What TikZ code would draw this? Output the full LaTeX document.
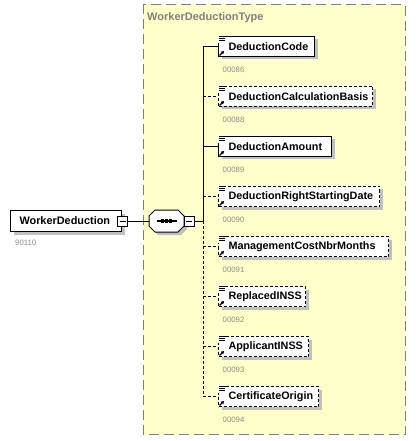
\documentclass[tikz,border=0pt]{standalone}
\usepackage{fontspec}
\setmainfont{Liberation Sans}
\usetikzlibrary{shadows,arrows.meta}
\definecolor{ybg}{RGB}{255,255,204}
\definecolor{yborder}{RGB}{128,128,128}
\definecolor{numgray}{RGB}{140,140,140}
\definecolor{shadowgray}{RGB}{192,192,192}
\tikzset{
  shd/.style={drop shadow={shadow xshift=3bp,shadow yshift=-3bp,fill=shadowgray,opacity=1}},
  elem/.style={draw,fill=white,line width=1bp,shd,minimum height=20bp,inner xsep=0pt,inner ysep=0pt,
    anchor=west,align=left,font=\bfseries\fontsize{10.8bp}{13bp}\selectfont},
  optelem/.style={elem,dash pattern=on 3bp off 2bp},
  numlbl/.style={anchor=west,inner sep=0pt,text=numgray,font=\fontsize{7.8bp}{9bp}\selectfont},
  minusbox/.style={draw,fill=white,line width=0.9bp,minimum width=10bp,minimum height=10bp,inner sep=0pt,
    path picture={\draw[line width=0.9bp] ([xshift=2bp]path picture bounding box.west) -- ([xshift=-2bp]path picture bounding box.east);}},
  conn/.style={line width=1bp},
  optconn/.style={line width=1bp,dash pattern=on 3bp off 2bp},
}
\newcommand\elicon[1]{%
  \fill[white] ([shift={(-0.6,-0.6)}]#1.north west) rectangle ([shift={(8,7)}]#1.north west);
  \foreach \yy/\ww in {0.6/7,2.6/6,4.6/6}
    \draw[line width=0.9bp] ([shift={(1,\yy)}]#1.north west) -- ++(\ww,0);
  \draw[line width=1.2bp,-{Triangle[length=3bp,width=3.5bp]}] ([shift={(1.5,-1.5)}]#1.south west) -- ++(4.5,-4.5);
}
\begin{document}
\begin{tikzpicture}[x=1bp,y=-1bp]
\useasboundingbox (0,0) rectangle (416,441);
% complex type box
\draw[fill=ybg,draw=yborder,line width=1bp,dash pattern=on 10bp off 5bp] (143.5,4.5) rectangle (405,434.5);
\node[anchor=west,inner sep=0pt,text=yborder,font=\bfseries\fontsize{11bp}{13bp}\selectfont] (title) at (147,17.5) {WorkerDeductionType};
% root element
\node[draw,fill=white,line width=1bp,shd,minimum height=21bp,inner xsep=0pt,inner ysep=0pt,anchor=west,align=left,
  text width=111bp,font=\bfseries\fontsize{10.9bp}{13bp}\selectfont] (root) at (10,221) {\hspace*{9bp}WorkerDeduction};
\node[minusbox] (rootm) at (122.5,221) {};
\node[numlbl] (rootn) at (15,242.5) {90110};
% sequence compositor
\node[minimum width=35bp,minimum height=22bp,inner sep=0pt] (comp) at (166.5,221) {};
\draw[fill=white,line width=1bp,shd]
  (155,210) -- (178,210) -- (184,216) -- (184,226) -- (178,232) -- (155,232) -- (149,226) -- (149,216) -- cycle;
\draw[line width=1.2bp] (156.5,221) -- (176.5,221);
\foreach \xx in {162.5,166.5,170.5} \fill (\xx-1.6,219.4) rectangle (\xx+1.6,222.6);
\node[minusbox] (compm) at (189,221) {};
\draw[conn] (rootm.east) -- (comp.west);
% vertical bar
\coordinate (vt) at (203,46.5);
\coordinate (vm) at (203,221);
\coordinate (vb) at (203,396.5);
\draw[conn] (compm.east) -- (vm);
\draw[conn] (vt) -- (vm);
\draw[optconn] (vm) -- (vb);
% child elements
\node[elem,text width=96bp] (e1) at (218,46.5) {\hspace*{10bp}DeductionCode};
\node[optelem,text width=154bp] (e2) at (218,96.5) {\hspace*{10bp}DeductionCalculationBasis};
\node[elem,text width=113bp] (e3) at (218,146.5) {\hspace*{10bp}DeductionAmount};
\node[optelem,text width=161bp] (e4) at (218,196.5) {\hspace*{10bp}DeductionRightStartingDate};
\node[optelem,text width=170bp] (e5) at (218,246.5) {\hspace*{10bp}ManagementCostNbrMonths};
\node[optelem,text width=87bp] (e6) at (218,296.5) {\hspace*{10bp}ReplacedINSS};
\node[optelem,text width=90bp] (e7) at (218,346.5) {\hspace*{10bp}ApplicantINSS};
\node[optelem,text width=100bp] (e8) at (218,396.5) {\hspace*{10bp}CertificateOrigin};
\foreach \n in {e1,e2,e3,e4,e5,e6,e7,e8} \elicon{\n};
% branches
\draw[conn] (e1.west -| vt) -- (e1.west);
\draw[conn] (e3.west -| vt) -- (e3.west);
\foreach \n in {e2,e4,e5,e6,e7,e8} \draw[optconn] (\n.west -| vt) -- (\n.west);
% numbers
\node[numlbl] (n1) at (222.5,69.5) {00086};
\node[numlbl] (n2) at (222.5,119.5) {00088};
\node[numlbl] (n3) at (222.5,169.5) {00089};
\node[numlbl] (n4) at (222.5,219.5) {00090};
\node[numlbl] (n5) at (222.5,269.5) {00091};
\node[numlbl] (n6) at (222.5,319.5) {00092};
\node[numlbl] (n7) at (222.5,369.5) {00093};
\node[numlbl] (n8) at (222.5,419.5) {00094};
\end{tikzpicture}
\end{document}
